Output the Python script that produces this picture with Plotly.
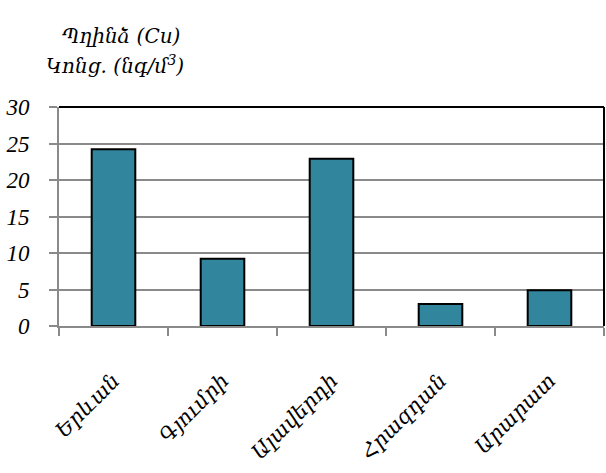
import plotly.graph_objects as go

# Copper concentration by city
cities = ["Երևան", "Գյումրի", "Ալավերդի", "Հրազդան", "Արարատ"]
copper = [24.2, 9.2, 22.9, 3.0, 4.9]
y_ticks = [0, 5, 10, 15, 20, 25, 30]
title_lines = ["Պղինձ (Cu)", "Կոնց. (նգ/մ<sup>3</sup>)"]

FONT = "Liberation Serif, serif"
ARM_FONT = "DejaVu Serif, serif"
GRID = "#8a8a8a"
BAR = "#31859C"

fig = go.Figure(
    go.Bar(
        x=cities,
        y=copper,
        marker=dict(color=BAR, line=dict(color="black", width=2)),
    )
)

fig.update_layout(
    width=606,
    height=473,
    margin=dict(l=59, r=2, t=107, b=147),
    paper_bgcolor="white",
    plot_bgcolor="white",
    bargap=0.6,
    showlegend=False,
    font=dict(family=FONT, size=21, color="black", style="italic"),
    xaxis=dict(
        type="category",
        tickson="boundaries",
        ticks="outside",
        ticklen=8,
        tickwidth=2,
        tickcolor=GRID,
        showline=True,
        linecolor=GRID,
        linewidth=2,
        showgrid=False,
        tickangle=-45,
        ticklabelstandoff=32,
        tickfont=dict(family=ARM_FONT, size=21, style="italic"),
    ),
    yaxis=dict(
        range=[0, 30],
        tickvals=y_ticks,
        ticks="outside",
        ticklen=8,
        tickwidth=2,
        tickcolor=GRID,
        showline=True,
        linecolor=GRID,
        linewidth=2,
        showgrid=True,
        gridcolor=GRID,
        gridwidth=2,
        zeroline=False,
        ticklabelstandoff=15,
        tickfont=dict(family=FONT, size=23, style="italic"),
    ),
    shapes=[
        dict(type="line", xref="paper", yref="paper", x0=0, x1=1, y0=1, y1=1,
             line=dict(color="black", width=2), layer="above"),
        dict(type="line", xref="paper", yref="paper", x0=1, x1=1, y0=0, y1=1,
             line=dict(color="black", width=2), layer="above"),
    ],
    annotations=[
        dict(text=title_lines[0], xref="paper", yref="paper", x=0.113, y=1.325,
             xanchor="center", yanchor="middle", showarrow=False,
             font=dict(family=ARM_FONT, size=20, style="italic")),
        dict(text=title_lines[1], xref="paper", yref="paper", x=0.103, y=1.19,
             xanchor="center", yanchor="middle", showarrow=False,
             font=dict(family=ARM_FONT, size=20, style="italic")),
    ],
)

fig.write_html("out.html")
